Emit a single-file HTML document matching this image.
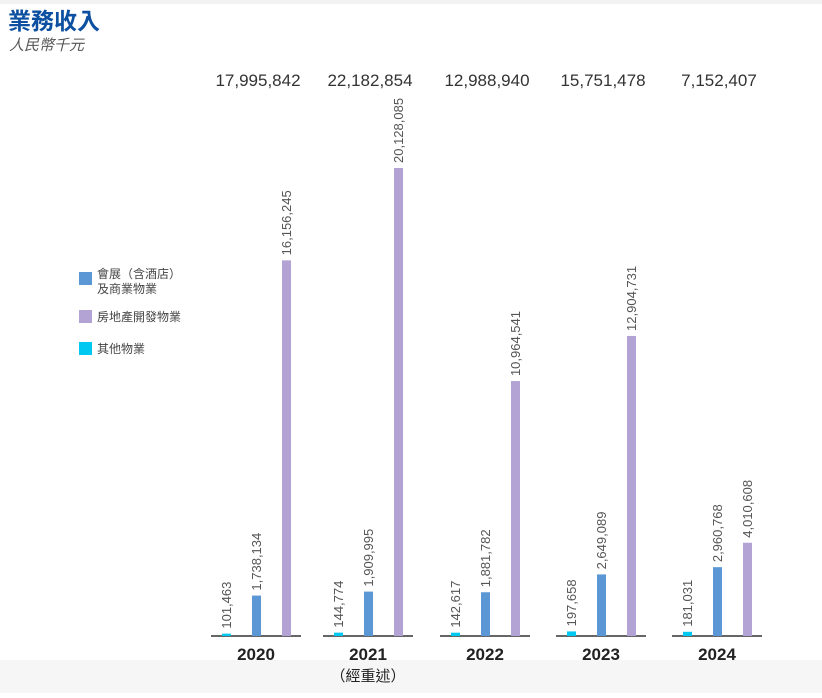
<!DOCTYPE html>
<html><head><meta charset="utf-8"><style>
body{margin:0;background:#fff;}
svg text{font-family:"Liberation Sans","Noto Sans CJK TC",sans-serif;}
</style></head><body>
<svg width="822" height="693" xmlns="http://www.w3.org/2000/svg">
<rect x="0" y="0" width="822" height="4" fill="#f2f2f2"/>
<rect x="0" y="660" width="822" height="33" fill="#f6f6f6"/>
<text x="8" y="29" font-size="23" font-weight="bold" fill="#0d4fa0">業務收入</text>
<text x="9" y="50" font-size="15" font-style="italic" fill="#555">人民幣千元</text>
<g>
<rect x="79" y="272" width="13" height="13" fill="#5b97d5"/>
<text x="97" y="278" font-size="12" fill="#444">會展（含酒店）</text>
<text x="97" y="293" font-size="12" fill="#444">及商業物業</text>
<rect x="79" y="310" width="13" height="13" fill="#b3a3d4"/>
<text x="97" y="321" font-size="12" fill="#444">房地產開發物業</text>
<rect x="79" y="342" width="13" height="13" fill="#00c8f0"/>
<text x="97" y="353" font-size="12" fill="#444">其他物業</text>
</g>
<g id="plot"></g>
</svg>
<script>
const years=['2020','2021','2022','2023','2024'];
const totals=['17,995,842','22,182,854','12,988,940','15,751,478','7,152,407'];
const otherVals=[101463,144774,142617,197658,181031];
const exhibVals=[1738134,1909995,1881782,2649089,2960768];
const devVals=[16156245,20128085,10964541,12904731,4010608];
const groupLeft=[211,323,440,556,672];
const baseY=636, scale=468/20128085;
const yH=v=>v*scale;
const fmt=v=>v.toLocaleString('en-US');
const g=document.getElementById('plot');
const NS='http://www.w3.org/2000/svg';
function mk(tag,attrs,text){const e=document.createElementNS(NS,tag);for(const k in attrs)e.setAttribute(k,attrs[k]);if(text!==undefined)e.textContent=text;g.appendChild(e);return e;}
years.forEach((yr,i)=>{
  const L=groupLeft[i];
  const ax=mk('line',{x1:L,x2:L+90,y1:baseY,y2:baseY,stroke:'#333','stroke-width':1.5});
  
  
  const yl=mk('text',{x:L+45,y:660,'font-size':17,'font-weight':'bold','text-anchor':'middle',fill:'#222'},yr);
  
  
  const tl=mk('text',{x:L+47,y:86,'font-size':17,'text-anchor':'middle',fill:'#333'},totals[i]);
  
  
  const series=[[otherVals,'#00c8f0',L+11,'other'],[exhibVals,'#5b97d5',L+41,'exhibition'],[devVals,'#b3a3d4',L+71,'property-dev']];
  series.forEach(([arr,col,x,nm])=>{
    const h=yH(arr[i]);
    const r=mk('rect',{x:x,y:baseY-h,width:9,height:h,fill:col});
    
    
    const ty=baseY-h-5, tx=x+9;
    const t=mk('text',{x:tx,y:ty,'font-size':13,fill:'#555',transform:`rotate(-90 ${tx} ${ty})`},fmt(arr[i]));
    
    
  });
});
const rs=mk('text',{x:368,y:681,'font-size':15,'text-anchor':'middle',fill:'#222'},'（經重述）');


</script>
</body></html>
